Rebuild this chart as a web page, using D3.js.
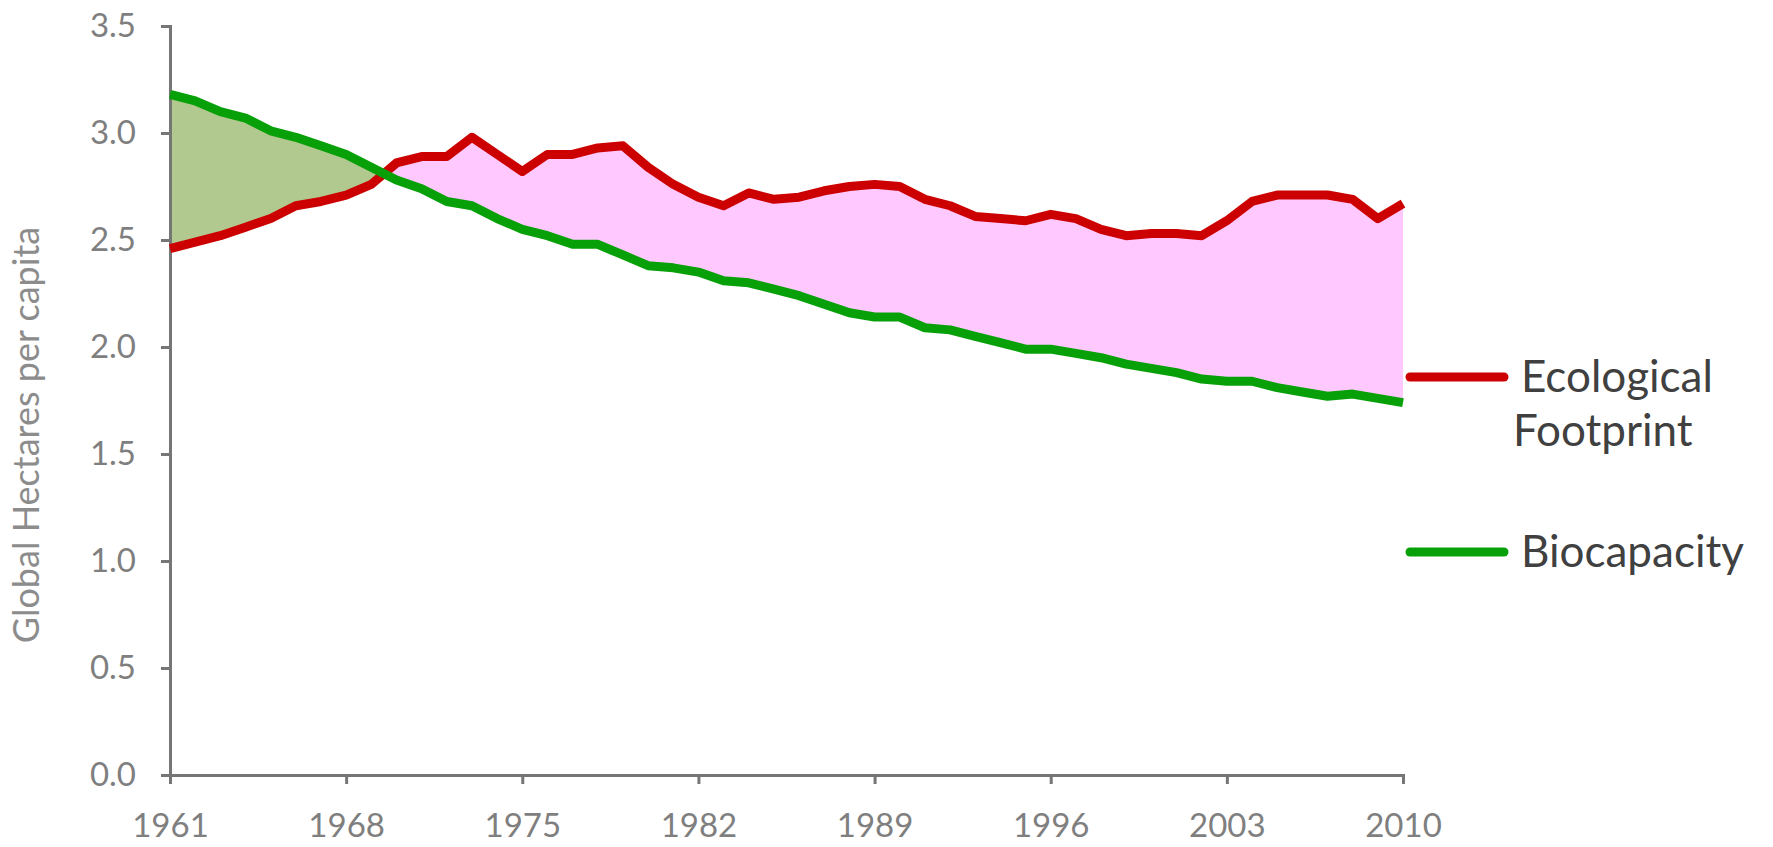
<!DOCTYPE html>
<html>
<head>
<meta charset="utf-8">
<script src="https://cdn.jsdelivr.net/npm/d3@7"></script>
<style>
  body { margin: 0; background: #fff; }
  .tick text { font-family: Lato, "Open Sans", sans-serif; fill: #7f7f7f; }
  .legend text { font-family: Lato, "Open Sans", sans-serif; fill: #404040; }
</style>
</head>
<body>
<div id="chart"></div>
<script>
// data
var years = [1961, 1962, 1963, 1964, 1965, 1966, 1967, 1968, 1969, 1970,
  1971, 1972, 1973, 1974, 1975, 1976, 1977, 1978, 1979, 1980,
  1981, 1982, 1983, 1984, 1985, 1986, 1987, 1988, 1989, 1990,
  1991, 1992, 1993, 1994, 1995, 1996, 1997, 1998, 1999, 2000,
  2001, 2002, 2003, 2004, 2005, 2006, 2007, 2008, 2009, 2010];

var footprint = [2.46, 2.49, 2.52, 2.56, 2.60, 2.66, 2.68, 2.71, 2.76, 2.86,
  2.89, 2.89, 2.98, 2.90, 2.82, 2.90, 2.90, 2.93, 2.94, 2.84,
  2.76, 2.70, 2.66, 2.72, 2.69, 2.70, 2.73, 2.75, 2.76, 2.75,
  2.69, 2.66, 2.61, 2.60, 2.59, 2.62, 2.60, 2.55, 2.52, 2.53,
  2.53, 2.52, 2.59, 2.68, 2.71, 2.71, 2.71, 2.69, 2.60, 2.67];

var biocapacity = [3.18, 3.15, 3.10, 3.07, 3.01, 2.98, 2.94, 2.90, 2.84, 2.78,
  2.74, 2.68, 2.66, 2.60, 2.55, 2.52, 2.48, 2.48, 2.43, 2.38,
  2.37, 2.35, 2.31, 2.30, 2.27, 2.24, 2.20, 2.16, 2.14, 2.14,
  2.09, 2.08, 2.05, 2.02, 1.99, 1.99, 1.97, 1.95, 1.92, 1.90,
  1.88, 1.85, 1.84, 1.84, 1.81, 1.79, 1.77, 1.78, 1.76, 1.74];

var xTickYears = [1961, 1968, 1975, 1982, 1989, 1996, 2003, 2010];
var yTickValues = [0, 0.5, 1, 1.5, 2, 2.5, 3, 3.5];

var svgWidth = 1773;
var svgHeight = 847;
var margin = {
  top: 26,
  right: 370,
  bottom: 72,
  left: 170
};
var width = svgWidth - margin.left - margin.right;
var height = svgHeight - margin.top - margin.bottom;

var svg = d3
  .select("#chart")
  .append("svg")
  .attr("width", svgWidth)
  .attr("height", svgHeight);

var chartGroup = svg.append("g")
  .attr("transform", `translate(${margin.left}, ${margin.top})`);

var data = years.map(function(yr, i) {
  return { year: yr, eco: footprint[i], bio: biocapacity[i] };
});

var xScale = d3.scaleLinear()
  .domain([1961, 2010])
  .range([0, width]);

var yScale = d3.scaleLinear()
  .domain([0, 3.5])
  .range([height, 0]);

// difference areas: clip against the footprint line
var area = d3.area()
  .x(d => xScale(d.year))
  .y1(d => yScale(d.eco));

chartGroup.append("clipPath")
  .attr("id", "clip-below")
  .append("path")
  .attr("d", area.y0(height)(data));

chartGroup.append("clipPath")
  .attr("id", "clip-above")
  .append("path")
  .attr("d", area.y0(0)(data));

// biocapacity above footprint -> green
chartGroup.append("path")
  .attr("clip-path", "url(#clip-above)")
  .attr("fill", "#b1c98f")
  .attr("d", area.y0(d => yScale(d.bio))(data));

// footprint above biocapacity -> pink
chartGroup.append("path")
  .attr("clip-path", "url(#clip-below)")
  .attr("fill", "#ffc9ff")
  .attr("d", area.y0(d => yScale(d.bio))(data));

// axes
var leftAxis = d3.axisLeft(yScale)
  .tickValues(yTickValues)
  .tickFormat(d3.format(".1f"))
  .tickSize(9)
  .tickPadding(25);

var bottomAxis = d3.axisBottom(xScale)
  .tickValues(xTickYears)
  .tickFormat(d3.format("d"))
  .tickSize(9)
  .tickPadding(30);

var yAxis = chartGroup.append("g")
  .classed("y-axis", true)
  .call(leftAxis);

var xAxis = chartGroup.append("g")
  .classed("x-axis", true)
  .attr("transform", `translate(0, ${height})`)
  .call(bottomAxis);

chartGroup.selectAll(".domain, .tick line")
  .attr("stroke", "#767676")
  .attr("stroke-width", 3);

chartGroup.selectAll(".tick text")
  .attr("font-size", "33px");

// lines
var ecoLine = d3.line()
  .x(d => xScale(d.year))
  .y(d => yScale(d.eco));

var bioLine = d3.line()
  .x(d => xScale(d.year))
  .y(d => yScale(d.bio));

chartGroup.append("path")
  .datum(data)
  .attr("fill", "none")
  .attr("stroke", "#cc0000")
  .attr("stroke-width", 9)
  .attr("stroke-linejoin", "round")
  .attr("d", ecoLine);

chartGroup.append("path")
  .datum(data)
  .attr("fill", "none")
  .attr("stroke", "#08a008")
  .attr("stroke-width", 9)
  .attr("stroke-linejoin", "round")
  .attr("d", bioLine);

// y axis title
chartGroup.append("text")
  .attr("transform", "rotate(-90)")
  .attr("x", 0 - 409)
  .attr("y", 0 - 131)
  .attr("text-anchor", "middle")
  .attr("font-family", "Lato, 'Open Sans', sans-serif")
  .attr("font-size", "36px")
  .attr("fill", "#8c8c8c")
  .text("Global Hectares per capita");

// legend
var legend = svg.append("g")
  .classed("legend", true)
  .attr("transform", "translate(1410, 0)");

legend.append("line")
  .attr("x1", 0).attr("x2", 94)
  .attr("y1", 377).attr("y2", 377)
  .attr("stroke", "#cc0000")
  .attr("stroke-width", 9)
  .attr("stroke-linecap", "round");

legend.append("text")
  .attr("x", 111).attr("y", 392)
  .attr("font-size", "44px")
  .text("Ecological");

legend.append("text")
  .attr("x", 103).attr("y", 446)
  .attr("font-size", "44px")
  .text("Footprint");

legend.append("line")
  .attr("x1", 0).attr("x2", 94)
  .attr("y1", 552).attr("y2", 552)
  .attr("stroke", "#08a008")
  .attr("stroke-width", 9)
  .attr("stroke-linecap", "round");

legend.append("text")
  .attr("x", 111).attr("y", 567)
  .attr("font-size", "44px")
  .text("Biocapacity");
</script>
</body>
</html>
